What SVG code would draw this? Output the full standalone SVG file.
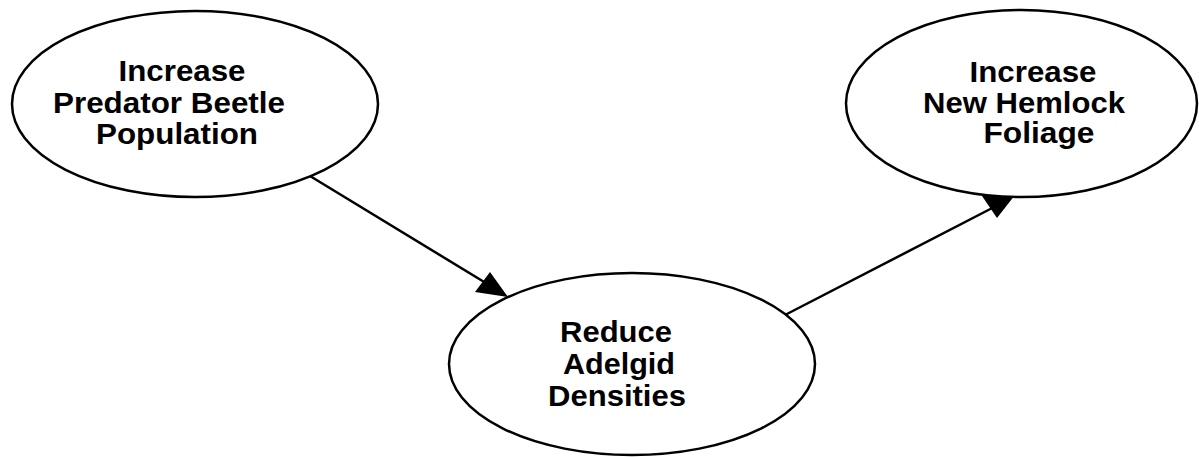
<svg xmlns="http://www.w3.org/2000/svg" width="1199" height="457" viewBox="0 0 1199 457">
  <style>
    .node { fill: #ffffff; stroke: #000000; stroke-width: 2.5; }
    .label { font-family: "Liberation Sans", Arial, Helvetica, sans-serif; font-weight: bold; font-size: 30px; fill: #000000; text-anchor: middle; }
    .edge { fill: none; stroke: #000000; stroke-width: 2.5; }
    .head { fill: #000000; stroke: none; }
  </style>
  <rect width="1199" height="457" fill="#ffffff"/>

  <g id="connectors">
    <line class="edge" x1="310" y1="176" x2="494" y2="288"/>
    <polygon class="head" points="508,297 475,292 490,272"/>
    <line class="edge" x1="785" y1="315" x2="1000" y2="204"/>
    <polygon class="head" points="1015,195 982,196 997,218"/>
  </g>

  <g id="node-predator">
    <ellipse class="node" cx="195" cy="104" rx="183" ry="93"/>
    <text class="label" x="182" y="81" textLength="127" lengthAdjust="spacingAndGlyphs">Increase</text>
    <text class="label" x="169" y="113" textLength="232" lengthAdjust="spacingAndGlyphs">Predator Beetle</text>
    <text class="label" x="177" y="144" textLength="162" lengthAdjust="spacingAndGlyphs">Population</text>
  </g>

  <g id="node-adelgid">
    <ellipse class="node" cx="632" cy="364" rx="183" ry="91"/>
    <text class="label" x="616" y="342" textLength="112" lengthAdjust="spacingAndGlyphs">Reduce</text>
    <text class="label" x="619" y="374" textLength="112" lengthAdjust="spacingAndGlyphs">Adelgid</text>
    <text class="label" x="617" y="406" textLength="138" lengthAdjust="spacingAndGlyphs">Densities</text>
  </g>

  <g id="node-hemlock">
    <ellipse class="node" cx="1021.5" cy="103.5" rx="175.5" ry="93.5"/>
    <text class="label" x="1033" y="82" textLength="127" lengthAdjust="spacingAndGlyphs">Increase</text>
    <text class="label" x="1024" y="113" textLength="202" lengthAdjust="spacingAndGlyphs">New Hemlock</text>
    <text class="label" x="1039" y="143" textLength="111" lengthAdjust="spacingAndGlyphs">Foliage</text>
  </g>
</svg>
